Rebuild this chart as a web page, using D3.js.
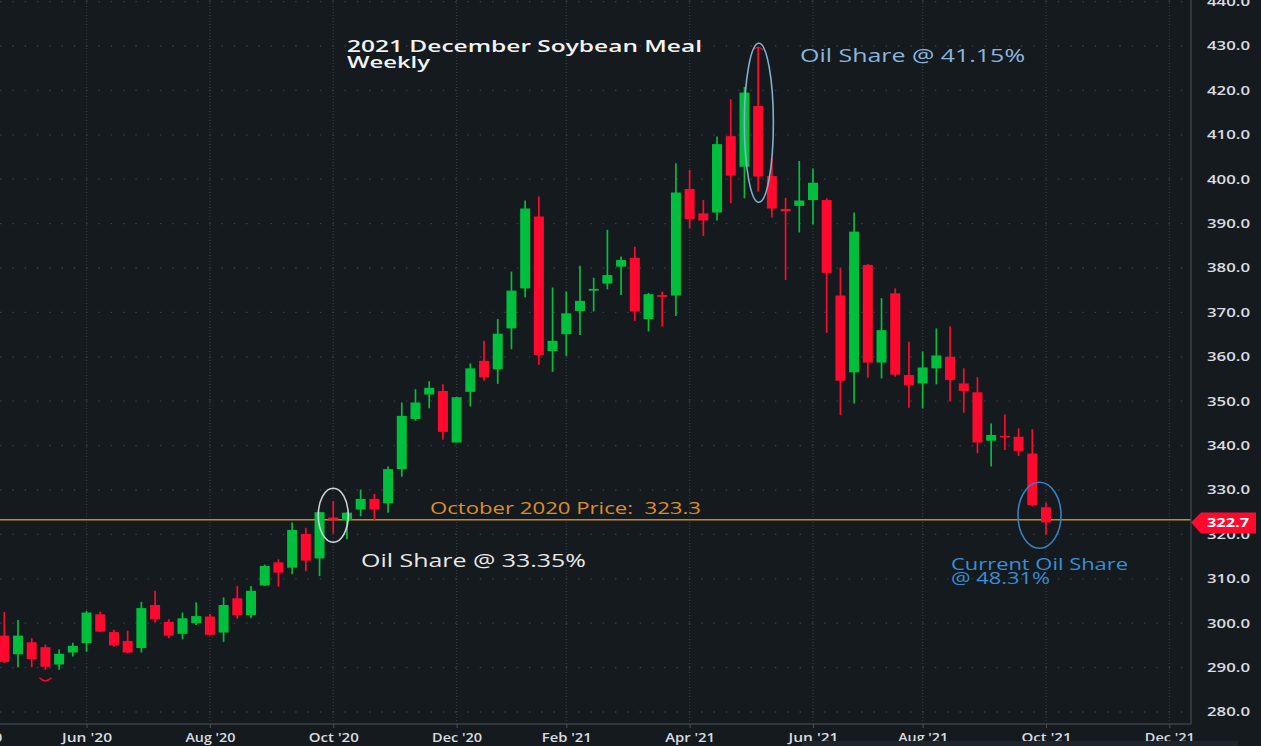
<!DOCTYPE html>
<html>
<head>
<meta charset="utf-8">
<script src="https://cdn.jsdelivr.net/npm/d3@7"></script>
<style>
  html, body { margin: 0; padding: 0; background: #151a1e; }
  svg { display: block; }
  text { font-family: "Open Sans", "Noto Sans", sans-serif; }
</style>
</head>
<body>
<svg id="chart"></svg>
<script>
// weekly candles, Apr 20 2020 .. Oct 4 2021
const firstWeek = "2020-04-20";
const lastWeek = "2021-10-04";

const opens = [297.2, 293.0, 295.7, 294.6, 290.7, 293.4, 295.5, 302.0, 298.0, 296.0,
  294.4, 304.1, 300.3, 297.6, 300.0, 301.5, 297.9, 305.6, 301.8, 308.5,
  313.7, 312.5, 320.1, 314.6, 323.8, 323.2, 325.6, 328.0, 327.0, 334.7,
  346.0, 351.5, 352.3, 340.7, 352.1, 359.1, 357.2, 366.4, 375.4, 391.6,
  361.3, 365.1, 370.3, 374.9, 376.5, 380.3, 382.3, 368.5, 373.9, 373.8,
  397.8, 392.3, 392.5, 409.7, 402.8, 416.5, 400.7, 393.3, 394.0, 395.3,
  395.3, 373.8, 356.5, 380.7, 358.7, 374.3, 355.9, 354.0, 357.4, 360.0,
  354.0, 352.0, 341.1, 342.2, 342.0, 338.2, 326.1];
const highs = [302.5, 300.7, 296.6, 295.2, 294.1, 295.6, 302.8, 302.6, 298.5, 298.3,
  304.8, 307.3, 300.9, 302.4, 304.7, 302.1, 305.8, 308.4, 308.4, 313.2,
  314.4, 322.7, 321.5, 325.1, 327.5, 325.0, 330.1, 329.1, 335.3, 349.7,
  352.7, 354.5, 353.8, 351.0, 358.5, 363.6, 368.5, 379.2, 395.2, 396.1,
  375.6, 374.7, 380.5, 377.8, 388.6, 382.6, 384.8, 374.4, 374.7, 403.6,
  402.1, 395.3, 409.6, 418.0, 420.8, 429.8, 404.8, 395.8, 404.1, 402.4,
  395.7, 380.1, 392.5, 380.9, 373.2, 375.4, 363.4, 361.2, 366.4, 366.9,
  357.4, 355.4, 345.0, 347.0, 343.9, 343.7, 327.2];
const lows = [291.0, 290.1, 290.1, 289.5, 289.5, 292.5, 293.6, 298.0, 294.7, 293.2,
  293.4, 300.1, 296.6, 296.4, 299.6, 297.3, 295.8, 301.0, 301.1, 308.4,
  308.2, 311.0, 311.7, 310.6, 320.2, 318.9, 324.1, 323.2, 324.9, 333.0,
  345.6, 348.4, 341.3, 340.7, 348.8, 354.6, 353.9, 361.7, 373.4, 358.2,
  356.6, 360.2, 364.9, 370.2, 375.2, 373.9, 368.1, 365.7, 366.8, 369.2,
  388.9, 387.2, 390.7, 394.6, 395.7, 397.2, 391.4, 377.3, 388.0, 389.8,
  365.4, 346.9, 349.5, 355.3, 355.1, 355.5, 348.5, 348.4, 353.8, 350.0,
  347.4, 338.3, 335.3, 339.0, 337.7, 326.3, 319.9];
const closes = [291.3, 297.2, 291.9, 290.2, 293.1, 294.9, 302.4, 298.1, 295.0, 293.4,
  303.4, 300.9, 297.2, 301.1, 301.6, 297.4, 304.1, 301.8, 307.3, 312.9,
  311.4, 321.0, 314.1, 325.0, 323.3, 324.9, 328.0, 325.6, 334.7, 346.7,
  349.7, 353.0, 343.1, 350.9, 357.4, 355.4, 365.2, 374.9, 393.4, 360.4,
  363.6, 369.8, 372.6, 375.3, 378.4, 381.8, 370.2, 374.1, 373.5, 397.0,
  391.0, 390.7, 407.9, 400.8, 419.5, 400.6, 393.4, 392.8, 395.2, 399.2,
  378.9, 354.6, 388.2, 358.7, 366.0, 356.0, 353.6, 357.6, 360.3, 354.8,
  352.3, 340.7, 342.4, 341.9, 338.8, 326.6, 322.7];

const priceTicks = [280, 290, 300, 310, 320, 330, 340, 350, 360, 370, 380, 390, 400, 410, 420, 430, 440];
const tickDates = ["2020-04-06", "2020-06-01", "2020-08-03", "2020-10-05", "2020-12-07", "2021-02-01",
  "2021-04-05", "2021-06-07", "2021-08-02", "2021-10-04", "2021-12-06"];
const tickLabels = ["Apr '20", "Jun '20", "Aug '20", "Oct '20", "Dec '20", "Feb '21",
  "Apr '21", "Jun '21", "Aug '21", "Oct '21", "Dec '21"];

const octPrice = 323.3;
const lastPrice = 322.7;

const W = 1261, H = 746;
const plotW = 1191, plotH = 724;
const BG = "#151a1e", UP = "#00bf3c", DOWN = "#ff0a2e";

const parse = d3.timeParse("%Y-%m-%d");
const dates = d3.timeMonday.range(parse(firstWeek), d3.timeDay.offset(parse(lastWeek), 1));
const candles = dates.map((d, i) => ({ date: d, o: opens[i], h: highs[i], l: lows[i], c: closes[i] }));

const svg = d3.select("#chart").attr("width", W).attr("height", H);
svg.append("rect").attr("width", W).attr("height", H).attr("fill", BG);

const x = d3.scaleTime().domain([dates[0], dates[dates.length - 1]]).range([4.3, 1046]);
const y = d3.scaleLinear().domain([280, 430]).range([712, 46]);

svg.append("clipPath").attr("id", "plot")
  .append("rect").attr("width", plotW).attr("height", plotH);

const grid = svg.append("g").attr("clip-path", "url(#plot)");
grid.selectAll(".hg").data(priceTicks).join("line")
  .attr("x1", 0).attr("x2", plotW)
  .attr("y1", d => y(d)).attr("y2", d => y(d))
  .attr("stroke", "#3a3f48").attr("stroke-width", 1.3)
  .attr("stroke-dasharray", "1.5,10.8");
grid.selectAll(".vg").data(tickDates).join("line")
  .attr("x1", d => x(parse(d))).attr("x2", d => x(parse(d)))
  .attr("y1", 0).attr("y2", plotH)
  .attr("stroke", "#353a44").attr("stroke-width", 1.2)
  .attr("stroke-dasharray", "1,2");

// October 2020 reference line
grid.append("line")
  .attr("x1", 0).attr("x2", plotW + 10)
  .attr("y1", y(octPrice)).attr("y2", y(octPrice))
  .attr("stroke", "#c98a1e").attr("stroke-width", 1.6);

// candles
const bodyW = 10;
const cg = svg.append("g").attr("clip-path", "url(#plot)");
const candle = cg.selectAll("g.candle").data(candles).join("g")
  .attr("transform", d => `translate(${x(d.date)},0)`);
candle.append("line")
  .attr("y1", d => y(d.h)).attr("y2", d => y(d.l))
  .attr("stroke", d => d.c >= d.o ? UP : DOWN)
  .attr("stroke-width", 1.7);
candle.append("rect")
  .attr("x", -bodyW / 2).attr("width", bodyW)
  .attr("y", d => y(Math.max(d.o, d.c)))
  .attr("height", d => Math.max(1.6, Math.abs(y(d.o) - y(d.c))))
  .attr("fill", d => d.c >= d.o ? UP : DOWN);

// small arcs at the low of week 3 and high of week 55
const arc3 = candles[3], arc55 = candles[55];
cg.append("path")
  .attr("d", `M${x(arc3.date) - 6},${y(arc3.l) + 8} q6,6 12,0`)
  .attr("fill", "none").attr("stroke", DOWN).attr("stroke-width", 1.3);
cg.append("path")
  .attr("d", `M${x(arc55.date) - 5},${y(arc55.h) + 3} q5,-5 10,0`)
  .attr("fill", "none").attr("stroke", DOWN).attr("stroke-width", 1.3);

// ellipses
const rings = [
  { i: 24, price: 324.3, dx: 0, rx: 15, ry: 27, color: "#cfd2d6" },
  { i: 55, price: 412.7, dx: 0.7, rx: 14.5, ry: 79.5, color: "#86aed0" },
  { i: 76, price: 324.3, dx: -6.5, rx: 21.5, ry: 33, color: "#3a7fc0" }
];
cg.selectAll("ellipse").data(rings).join("ellipse")
  .attr("cx", d => x(candles[d.i].date) + d.dx).attr("cy", d => y(d.price))
  .attr("rx", d => d.rx).attr("ry", d => d.ry)
  .attr("fill", "none").attr("stroke", d => d.color).attr("stroke-width", 1.6);

// annotation texts
const notes = [
  { t: "2021 December Soybean Meal", x: 347, y: 52, size: 17, len: 355, color: "#f2f2f2", w: 600 },
  { t: "Weekly", x: 347, y: 68, size: 17, len: 83, color: "#f2f2f2", w: 600 },
  { t: "Oil Share @ 41.15%", x: 800, y: 62, size: 18, len: 225, color: "#8ab6de", w: 400 },
  { t: "October 2020 Price:\u00a0 323.3", x: 430, y: 514, size: 17, len: 271, color: "#dc902c", w: 400 },
  { t: "Oil Share @ 33.35%", x: 361, y: 567, size: 17.5, len: 225, color: "#e8e8e8", w: 400 },
  { t: "Current Oil Share", x: 951, y: 570, size: 16, len: 177, color: "#3a8fd6", w: 400 },
  { t: "@ 48.31%", x: 951, y: 584, size: 16, len: 99, color: "#3a8fd6", w: 400 }
];
svg.selectAll("text.note").data(notes).join("text")
  .attr("class", "note")
  .attr("x", d => d.x).attr("y", d => d.y)
  .attr("font-size", d => d.size).attr("font-weight", d => d.w)
  .attr("fill", d => d.color)
  .attr("textLength", d => d.len).attr("lengthAdjust", "spacingAndGlyphs")
  .text(d => d.t);

// frame lines
svg.append("line").attr("x1", plotW).attr("x2", plotW).attr("y1", 0).attr("y2", plotH)
  .attr("stroke", "#3b4148").attr("stroke-width", 1.5);
svg.append("line").attr("x1", 0).attr("x2", plotW).attr("y1", plotH).attr("y2", plotH)
  .attr("stroke", "#3b4148").attr("stroke-width", 1.5);

// price axis
const yAxis = svg.append("g").attr("transform", `translate(${plotW},0)`)
  .call(d3.axisRight(y).tickValues(priceTicks).tickFormat(d3.format(".1f")).tickSize(0).tickPadding(16));
yAxis.select(".domain").remove();
yAxis.selectAll("text")
  .attr("fill", "#dadce0").attr("font-size", 12).attr("font-weight", 600)
  .attr("font-family", "'Open Sans', sans-serif")
  .attr("textLength", 43).attr("lengthAdjust", "spacingAndGlyphs");

// time axis
const xAxis = svg.append("g").attr("transform", `translate(0,${plotH})`)
  .call(d3.axisBottom(x).tickValues(tickDates.map(parse)).tickFormat((d, i) => tickLabels[i]).tickSize(4).tickPadding(5));
xAxis.select(".domain").remove();
xAxis.selectAll("line").attr("stroke", "#4a5058");
xAxis.selectAll("text")
  .attr("fill", "#dadce0").attr("font-size", 12).attr("font-weight", 600)
  .attr("font-family", "'Open Sans', sans-serif")
  .attr("textLength", 50).attr("lengthAdjust", "spacingAndGlyphs");

// last price tag
const ty = y(lastPrice);
svg.append("path")
  .attr("d", `M${plotW},${ty} L${plotW + 10},${ty - 10} L${W - 5},${ty - 10} L${W - 5},${ty + 11} L${plotW + 10},${ty + 11} Z`)
  .attr("fill", DOWN);
svg.append("text")
  .attr("x", plotW + 37).attr("y", ty + 5)
  .attr("text-anchor", "middle")
  .attr("fill", "#ffffff").attr("font-size", 12.5).attr("font-weight", 700)
  .attr("textLength", 42).attr("lengthAdjust", "spacingAndGlyphs")
  .text(d3.format(".1f")(lastPrice));

// strip at bottom right
svg.append("rect").attr("x", 802).attr("y", 741).attr("width", 436).attr("height", 5)
  .attr("fill", "#20252b");
</script>
</body>
</html>
